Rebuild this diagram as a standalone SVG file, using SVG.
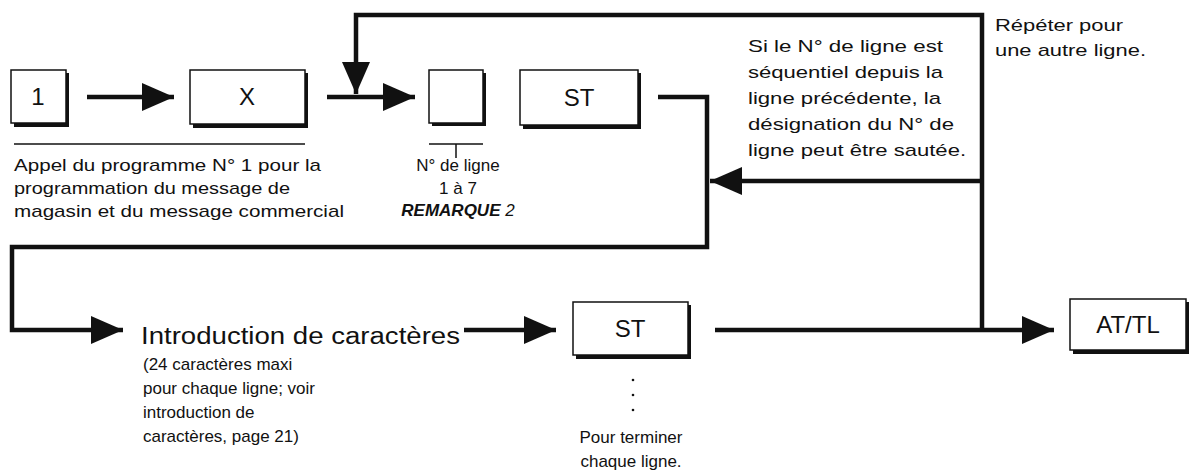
<svg xmlns="http://www.w3.org/2000/svg" width="1201" height="476" viewBox="0 0 1201 476">
<style>
.t{font-family:"Liberation Sans",Arial,sans-serif;font-size:17px;fill:#111}
.k{font-family:"Liberation Sans",Arial,sans-serif;font-size:24px;fill:#111;text-anchor:middle}
.box{fill:#fff;stroke:#111;stroke-width:1.5}
.sh{fill:#111}
.c{fill:none;stroke:#111;stroke-width:4.5}
.thin{fill:none;stroke:#111;stroke-width:1.5}
</style>
<defs>
<marker id="ah" markerWidth="34" markerHeight="28" refX="32" refY="14" orient="auto" markerUnits="userSpaceOnUse">
<path d="M0,0 L32,14 L0,28 z" fill="#111"/>
</marker>
</defs>
<g id="connectors">
<line class="c" x1="87" y1="97" x2="174" y2="97" marker-end="url(#ah)"/>
<line class="c" x1="327" y1="97" x2="415" y2="97" marker-end="url(#ah)"/>
<polyline class="c" points="982,330 982,15 356,15 356,94" marker-end="url(#ah)"/>
<line class="c" x1="982" y1="181" x2="710" y2="181" marker-end="url(#ah)"/>
<polyline class="c" points="658,97 707,97 707,247 12,247 12,330 123,330" marker-end="url(#ah)"/>
<line class="c" x1="464" y1="330" x2="556" y2="330" marker-end="url(#ah)"/>
<line class="c" x1="715" y1="330" x2="1054" y2="330" marker-end="url(#ah)"/>
<line class="thin" x1="14" y1="144" x2="305" y2="144"/>
<line class="thin" x1="429" y1="144" x2="483" y2="144"/>
<line class="thin" x1="456" y1="144" x2="456" y2="158"/>
</g>
<g id="n1"><rect class="sh" x="14" y="73" width="55" height="54"/><rect class="box" x="11" y="70" width="55" height="53"/><text class="k" x="38" y="105">1</text></g>
<g id="nX"><rect class="sh" x="193" y="73" width="115" height="55"/><rect class="box" x="190" y="70" width="115" height="54"/><text class="k" x="247" y="105">X</text></g>
<g id="nLine"><rect class="sh" x="432" y="73" width="54" height="53"/><rect class="box" x="429" y="70" width="54" height="53"/></g>
<g id="nST1"><rect class="sh" x="523" y="73" width="118" height="56"/><rect class="box" x="520" y="70" width="118" height="55"/><text class="k" x="579" y="106">ST</text></g>
<g id="nST2"><rect class="sh" x="576" y="305" width="115" height="54"/><rect class="box" x="573" y="302" width="115" height="53"/><text class="k" x="630" y="337">ST</text></g>
<g id="nATTL"><rect class="sh" x="1073" y="302" width="116" height="52"/><rect class="box" x="1070" y="299" width="116" height="51"/><text class="k" x="1128" y="333">AT/TL</text></g>
<g id="labels">
<text class="t" x="14" y="171" textLength="307" lengthAdjust="spacingAndGlyphs">Appel du programme N° 1 pour la</text>
<text class="t" x="14" y="194" textLength="276" lengthAdjust="spacingAndGlyphs">programmation du message de</text>
<text class="t" x="14" y="217" textLength="330" lengthAdjust="spacingAndGlyphs">magasin et du message commercial</text>
<text class="t" x="458" y="171" text-anchor="middle">N° de ligne</text>
<text class="t" x="458" y="194" text-anchor="middle">1 à 7</text>
<text class="t" x="458" y="216" text-anchor="middle" style="font-weight:bold;font-style:italic">REMARQUE <tspan style="font-weight:normal">2</tspan></text>
<text class="t" x="748" y="52" textLength="195" lengthAdjust="spacingAndGlyphs">Si le N° de ligne est</text>
<text class="t" x="748" y="78" textLength="195" lengthAdjust="spacingAndGlyphs">séquentiel depuis la</text>
<text class="t" x="748" y="104" textLength="193" lengthAdjust="spacingAndGlyphs">ligne précédente, la</text>
<text class="t" x="748" y="130" textLength="206" lengthAdjust="spacingAndGlyphs">désignation du N° de</text>
<text class="t" x="748" y="156" textLength="218" lengthAdjust="spacingAndGlyphs">ligne peut être sautée.</text>
<text class="t" x="995" y="31" textLength="128" lengthAdjust="spacingAndGlyphs">Répéter pour</text>
<text class="t" x="995" y="56" textLength="151" lengthAdjust="spacingAndGlyphs">une autre ligne.</text>
<text class="t" x="141" y="344" style="font-size:23px" textLength="319" lengthAdjust="spacingAndGlyphs">Introduction de caractères</text>
<text class="t" x="143" y="370">(24 caractères maxi</text>
<text class="t" x="143" y="394">pour chaque ligne; voir</text>
<text class="t" x="143" y="418">introduction de</text>
<text class="t" x="143" y="442">caractères, page 21)</text>
<text class="t" x="631" y="443" text-anchor="middle">Pour terminer</text>
<text class="t" x="631" y="467" text-anchor="middle">chaque ligne.</text>
</g>
<g id="dots" fill="#111">
<circle cx="633" cy="380" r="1.3"/><circle cx="633" cy="395" r="1.3"/><circle cx="633" cy="410" r="1.3"/>
</g>
</svg>
